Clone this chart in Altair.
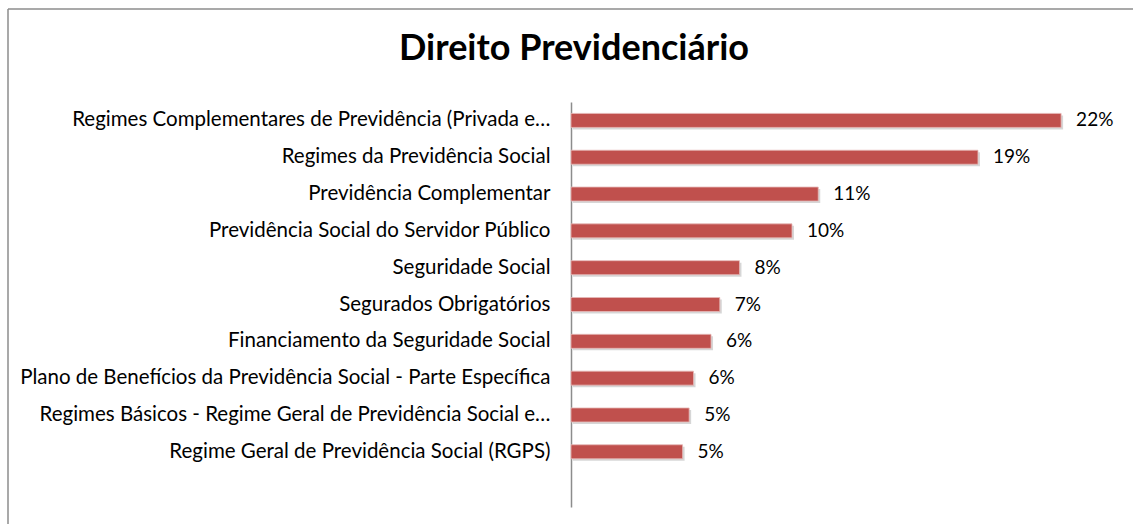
import altair as alt
import pandas as pd

title_text = "Direito Previdenciário"
categories = [
    "Regimes Complementares de Previdência (Privada e…",
    "Regimes da Previdência Social",
    "Previdência Complementar",
    "Previdência Social do Servidor Público",
    "Seguridade Social",
    "Segurados Obrigatórios",
    "Financiamento da Seguridade Social",
    "Plano de Benefícios da Previdência Social - Parte Específica",
    "Regimes Básicos - Regime Geral de Previdência Social e…",
    "Regime Geral de Previdência Social (RGPS)",
]
values = [0.224, 0.186, 0.113, 0.101, 0.077, 0.068, 0.064, 0.056, 0.054, 0.051]

df = pd.DataFrame({"cat": categories, "val": values})
domain = categories + [""]

W, H = 547, 405
FONT = "Lato"

y_enc = alt.Y(
    "cat:N",
    sort=domain,
    scale=alt.Scale(domain=domain, paddingInner=0, paddingOuter=0),
    axis=alt.Axis(
        title=None, ticks=False, labelFontSize=20.5, labelFont=FONT,
        labelColor="#000000", labelPadding=21, domainColor="#8c8c8c",
        domainWidth=1.5, labelLimit=700, grid=False,
    ),
)
x_enc = alt.X("val:Q", scale=alt.Scale(domain=[0, 0.25]), axis=None)

base = alt.Chart(df)

shadow = base.mark_bar(size=14, color="#777777", opacity=0.3, xOffset=2, yOffset=2).encode(x=x_enc, y=y_enc)
bars = base.mark_bar(size=14, color="#C0504D", stroke="#E6B9B8", strokeWidth=0.8).encode(x=x_enc, y=y_enc)
labels = base.mark_text(align="left", baseline="middle", dx=15, fontSize=19, font=FONT, color="#000000").encode(
    x=x_enc, y=y_enc, text=alt.Text("val:Q", format=".0%")
)

frame_df = pd.DataFrame({"k": [0]})
top_rule = alt.Chart(frame_df).mark_rule(color="#8c8c8c", strokeWidth=1.5).encode(
    x=alt.value(-563), x2=alt.value(570), y=alt.value(-93)
)
left_rule = alt.Chart(frame_df).mark_rule(color="#8c8c8c", strokeWidth=1.5).encode(
    x=alt.value(-563), y=alt.value(-93), y2=alt.value(430)
)

title_df = pd.DataFrame({"t": [title_text]})
title = alt.Chart(title_df).mark_text(
    align="center", baseline="alphabetic", fontSize=36, font=FONT, fontWeight="bold", color="#000000"
).encode(x=alt.value(3), y=alt.value(-42), text="t:N")

chart = alt.layer(shadow, bars, labels, top_rule, left_rule, title).properties(
    width=W,
    height=H,
    background="#ffffff",
    padding={"left": 571, "top": 102, "right": 15, "bottom": 17},
    autosize=alt.AutoSizeParams(type="none"),
).configure_view(stroke="transparent", strokeWidth=0)

chart.save("out.html", embed_options={"renderer": "svg", "actions": False})
